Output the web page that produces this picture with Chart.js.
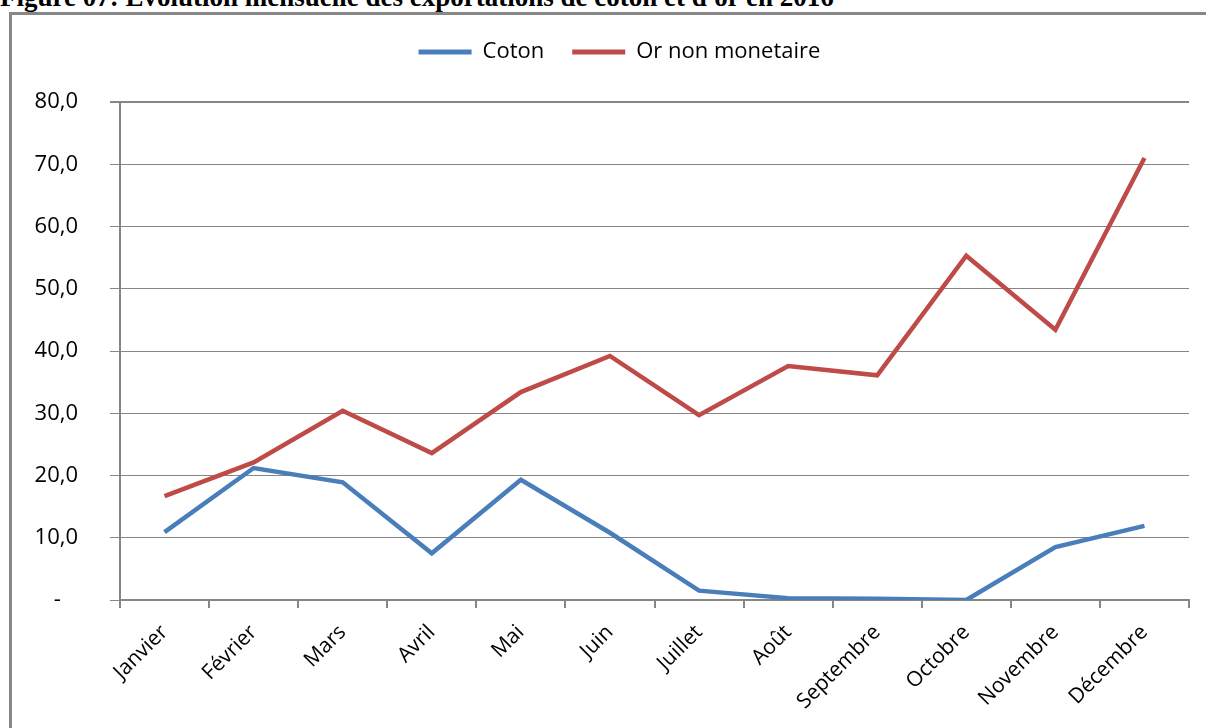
<!DOCTYPE html>
<html>
<head>
<meta charset="utf-8">
<script src="https://cdn.jsdelivr.net/npm/chart.js@4.4.1/dist/chart.umd.min.js"></script>
<style>
  html, body { margin: 0; padding: 0; background: #fff; width: 1206px; height: 728px; overflow: hidden; }
  #title { position: absolute; left: 0; top: -16px; font-family: "Liberation Serif", serif; font-weight: bold; font-size: 27px; line-height: 27px; white-space: nowrap; color: #000; }
  #frame { position: absolute; left: 9px; top: 12px; width: 1400px; height: 900px; border: 3px solid #878787; box-sizing: border-box; background: #fff; }
  #wrap { position: absolute; left: 0; top: 0; width: 1206px; height: 728px; }
</style>
</head>
<body>
<div id="title">Figure 07: Evolution mensuelle des exportations de coton et d'or en 2016</div>
<div id="frame"></div>
<div id="wrap"><canvas id="c" width="1206" height="728"></canvas></div>
<script>
const months = ["Janvier", "Février", "Mars", "Avril", "Mai", "Juin", "Juillet", "Août", "Septembre", "Octobre", "Novembre", "Décembre"];
const cotonValues = [10.9, 21.2, 18.9, 7.5, 19.3, 10.8, 1.5, 0.3, 0.2, 0.0, 8.5, 11.9];
const orValues = [16.7, 22.1, 30.4, 23.6, 33.4, 39.2, 29.7, 37.6, 36.1, 55.3, 43.4, 71.0];
const seriesNames = ["Coton", "Or non monetaire"];
const yTicks = [0, 10, 20, 30, 40, 50, 60, 70, 80];

const axisColor = "#868686";
const fontFamily = "'Open Sans', 'Noto Sans', sans-serif";

const legendSpacer = {
  id: "legendSpacer",
  beforeUpdate(chart) {
    const lg = chart.legend;
    if (lg && !lg._patched) {
      const orig = lg.fit;
      lg.fit = function () { orig.call(this); this.height += 29; };
      lg._patched = true;
    }
  },
  afterLayout(chart) {
    if (chart.legend) { chart.legend.left += 50; }
  }
};

new Chart(document.getElementById("c"), {
  type: "line",
  data: {
    labels: months,
    datasets: [
      { label: seriesNames[0], data: cotonValues, borderColor: "#4A7EBB", backgroundColor: "#4A7EBB", borderWidth: 4.5, pointRadius: 0, tension: 0 },
      { label: seriesNames[1], data: orValues, borderColor: "#BE4B48", backgroundColor: "#BE4B48", borderWidth: 4.5, pointRadius: 0, tension: 0 }
    ]
  },
  options: {
    responsive: false,
    animation: false,
    layout: { padding: { top: 13, right: 17, left: 0, bottom: 0 } },
    plugins: {
      tooltip: { enabled: false },
      legend: {
        position: "top",
        labels: {
          color: "#000",
          font: { family: fontFamily, size: 22 },
          boxWidth: 53,
          boxHeight: 5,
          padding: 28,
          generateLabels(chart) {
            return Chart.defaults.plugins.legend.labels.generateLabels(chart).map(l => Object.assign(l, { lineWidth: 0 }));
          }
        }
      }
    },
    scales: {
      x: {
        type: "category",
        offset: true,
        grid: { offset: true, drawOnChartArea: false, drawTicks: true, tickLength: 8, color: axisColor, lineWidth: 2 },
        border: { color: axisColor, width: 2 },
        ticks: { color: "#000", font: { family: fontFamily, size: 21 }, minRotation: 45, maxRotation: 45, padding: 12, autoSkip: false },
        afterFit(scale) { scale.height = 128; }
      },
      y: {
        min: 0,
        max: 80,
        afterBuildTicks(scale) { scale.ticks = yTicks.map(v => ({ value: v })); },
        grid: { color: axisColor, lineWidth: ctx => (ctx.tick && ctx.tick.value === 80 ? 2 : 1), drawTicks: true, tickLength: 10 },
        border: { color: axisColor, width: 2 },
        ticks: {
          color: "#000",
          font: { family: fontFamily, size: 22 },
          padding: 32,
          callback: v => (v === 0 ? "-   " : v.toFixed(1).replace(".", ","))
        },
        afterFit(scale) { scale.width = 120; }
      }
    }
  },
  plugins: [legendSpacer]
});
</script>
</body>
</html>
